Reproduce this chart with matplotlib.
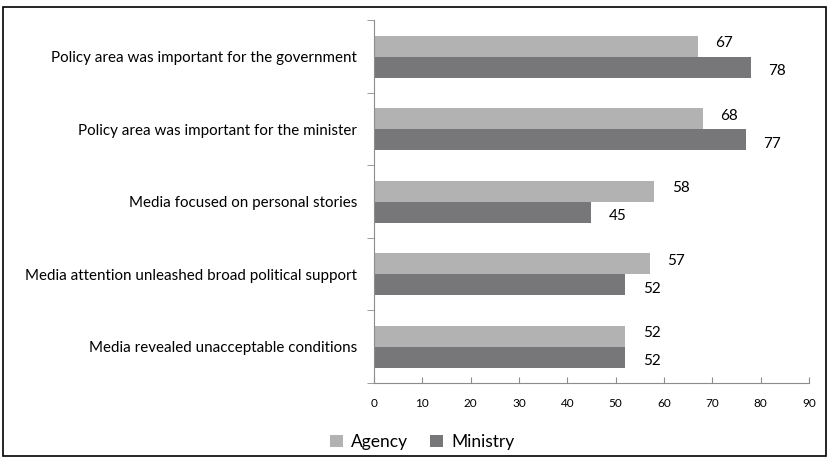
import matplotlib.pyplot as plt
import numpy as np
from matplotlib.patches import Rectangle

plt.rcParams['font.family'] = ['Lato', 'DejaVu Sans']

# data (top to bottom)
categories = ["Policy area was important for the government",
              "Policy area was important for the minister",
              "Media focused on personal stories",
              "Media attention unleashed broad political support",
              "Media revealed unacceptable conditions"]
agency = [67, 68, 58, 57, 52]
ministry = [78, 77, 45, 52, 52]

c_agency = '#b2b2b2'
c_ministry = '#77777a'
axis_col = '#8c8c8c'

fig = plt.figure(figsize=(8.29, 4.59), dpi=100)
ax = fig.add_axes([0.451, 0.1656, 0.525, 0.79])

n = len(categories)
y = np.arange(n)[::-1]   # first category on top
h = 0.29

b1 = ax.barh(y + h / 2, agency, height=h, color=c_agency, label='Agency')
b2 = ax.barh(y - h / 2, ministry, height=h, color=c_ministry, label='Ministry')

for bars, off in ((b1, 2), (b2, -3)):
    for b in bars:
        v = b.get_width()
        ax.annotate(f"{v:g}", (v, b.get_y() + b.get_height() / 2),
                    xytext=(12.5, off), textcoords='offset points',
                    ha='left', va='center', fontsize=11, color='black')

ax.set_xlim(0, 90)
ax.set_ylim(-0.5, n - 0.5)
ax.set_xticks(np.arange(0, 91, 10))
ax.set_yticks(y)
ax.set_yticklabels(categories, fontsize=10.9)
ax.set_yticks(np.arange(-0.5, n, 1), minor=True)
ax.tick_params(axis='y', which='major', length=0, pad=12)
ax.tick_params(axis='y', which='minor', length=5, color=axis_col, direction='out')
ax.tick_params(axis='x', length=4, color=axis_col, direction='in', labelsize=8.5, pad=11)

for s in ('top', 'right'):
    ax.spines[s].set_visible(False)
for s in ('left', 'bottom'):
    ax.spines[s].set_color(axis_col)

leg = fig.legend(handles=[b1, b2], loc='center', bbox_to_anchor=(0.509, 0.037),
                 ncol=2, frameon=False, fontsize=12.5, handlelength=0.75,
                 handleheight=0.75, columnspacing=1.3, handletextpad=0.45)

fig.patches.append(Rectangle((0.004, 0.006), 0.992, 0.979, transform=fig.transFigure,
                             fill=False, edgecolor='black', linewidth=1.2))

fig.savefig('out.png', dpi=100)
